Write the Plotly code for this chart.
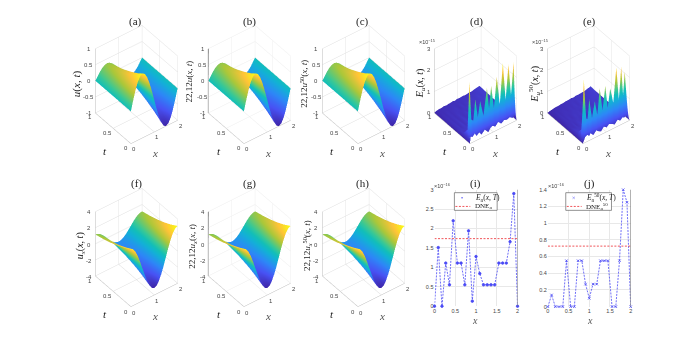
import plotly.graph_objects as go

W, H = 700, 348
x_grid = [0, .1, .2, .3, .4, .5, .6, .7, .8, .9, 1, 1.1, 1.2, 1.3, 1.4, 1.5, 1.6, 1.7, 1.8, 1.9, 2]
t_grid = [0, .2, .4, .6, .8, 1]
u_vals = [
    [0, .31, .59, .81, .95, 1, .95, .81, .59, .31, 0, -.31, -.59, -.81, -.95, -1, -.95, -.81, -.59, -.31, 0],
    [0, .25, .48, .66, .78, .82, .78, .66, .48, .25, 0, -.25, -.48, -.66, -.78, -.82, -.78, -.66, -.48, -.25, 0],
    [0, .21, .39, .54, .64, .67, .64, .54, .39, .21, 0, -.21, -.39, -.54, -.64, -.67, -.64, -.54, -.39, -.21, 0],
    [0, .17, .32, .44, .52, .55, .52, .44, .32, .17, 0, -.17, -.32, -.44, -.52, -.55, -.52, -.44, -.32, -.17, 0],
    [0, .14, .26, .36, .43, .45, .43, .36, .26, .14, 0, -.14, -.26, -.36, -.43, -.45, -.43, -.36, -.26, -.14, 0],
    [0, .11, .22, .30, .35, .37, .35, .30, .22, .11, 0, -.11, -.22, -.30, -.35, -.37, -.35, -.30, -.22, -.11, 0],
]
ux_vals = [
    [3.14, 2.99, 2.54, 1.85, .97, 0, -.97, -1.85, -2.54, -2.99, -3.14, -2.99, -2.54, -1.85, -.97, 0, .97, 1.85, 2.54, 2.99, 3.14],
    [2.57, 2.45, 2.08, 1.51, .79, 0, -.79, -1.51, -2.08, -2.45, -2.57, -2.45, -2.08, -1.51, -.79, 0, .79, 1.51, 2.08, 2.45, 2.57],
    [2.10, 2.00, 1.70, 1.24, .65, 0, -.65, -1.24, -1.70, -2.00, -2.10, -2.00, -1.70, -1.24, -.65, 0, .65, 1.24, 1.70, 2.00, 2.10],
    [1.72, 1.64, 1.40, 1.01, .53, 0, -.53, -1.01, -1.40, -1.64, -1.72, -1.64, -1.40, -1.01, -.53, 0, .53, 1.01, 1.40, 1.64, 1.72],
    [1.41, 1.34, 1.14, .83, .44, 0, -.44, -.83, -1.14, -1.34, -1.41, -1.34, -1.14, -.83, -.44, 0, .44, .83, 1.14, 1.34, 1.41],
    [1.16, 1.10, .94, .68, .36, 0, -.36, -.68, -.94, -1.10, -1.16, -1.10, -.94, -.68, -.36, 0, .36, .68, .94, 1.10, 1.16],
]
t_err = [0, .04, .09, .2, .4, .6, .8, 1]
x_d = [0, .04, .12, .21, .29, .4, .5, .64, .79, .88, .97, 1.09, 1.21, 1.34, 1.47, 1.59, 1.71, 1.82, 1.93, 2]
err_d = [
    [0, .3, .25, .35, .2, .3, .15, .3, .1, .25, .3, .2, .35, .2, .3, .25, .3, .2, .3, 0],
    [0, 2.8, 1.0, .9, 1.85, .95, 1.65, .9, 2.1, 1.1, 2.1, 1.0, 2.4, 1.0, 2.9, 1.1, 2.7, 1.2, 2.7, 0],
    [0, .5, .35, .3, .45, .3, .4, .3, .5, .35, .5, .3, .5, .35, .6, .4, .6, .4, .6, 0],
    [0, .2, .15, .2, .15, .2, .2, .15, .2, .25, .2, .25, .2, .25, .25, .3, .25, .3, .25, 0],
    [0, .1, .15, .1, .18, .12, .2, .15, .12, .2, .15, .22, .15, .2, .18, .22, .2, .25, .2, 0],
    [0, .08, .12, .1, .14, .1, .16, .12, .18, .12, .2, .14, .2, .16, .2, .18, .22, .2, .18, 0],
    [0, .06, .1, .08, .12, .1, .12, .14, .1, .16, .12, .16, .14, .18, .16, .2, .18, .22, .2, 0],
    [0, .04, .06, .08, .07, .1, .08, .1, .12, .1, .13, .12, .14, .12, .15, .14, .18, .2, .22, 0],
]
x_e = [0, .1, .2, .27, .33, .45, .57, .68, .78, .9, 1.02, 1.12, 1.23, 1.36, 1.49, 1.6, 1.7, 1.78, 1.85, 2]
err_e = [
    [0, .25, .3, .2, .3, .15, .3, .2, .15, .3, .2, .3, .25, .15, .3, .2, .3, .25, .3, 0],
    [0, 2.87, 1.0, .95, 1.83, .9, 1.6, .9, 2.1, 1.0, 2.08, 1.0, 1.85, 1.1, 2.68, 1.1, 2.6, 1.2, 2.3, 0],
    [0, .5, .3, .35, .45, .3, .4, .3, .5, .3, .5, .35, .45, .3, .6, .4, .6, .4, .5, 0],
    [0, .2, .2, .15, .2, .15, .2, .2, .15, .25, .2, .25, .2, .3, .25, .25, .3, .25, .25, 0],
    [0, .12, .1, .16, .1, .18, .14, .12, .2, .15, .2, .14, .22, .16, .2, .24, .2, .22, .18, 0],
    [0, .06, .12, .1, .14, .1, .16, .14, .16, .12, .2, .14, .18, .16, .22, .18, .2, .2, .2, 0],
    [0, .05, .1, .08, .1, .12, .1, .14, .12, .16, .12, .18, .14, .16, .18, .2, .2, .22, .2, 0],
    [0, .04, .05, .07, .08, .08, .1, .1, .12, .12, .14, .12, .15, .14, .16, .16, .2, .22, .24, 0],
]
x_line = [0, .09, .18, .27, .36, .45, .55, .64, .73, .82, .91, 1, 1.09, 1.18, 1.27, 1.36, 1.45, 1.55, 1.64, 1.73, 1.82, 1.91, 2]
e_i = [0, 1.51, 0, 1.11, .55, 2.2, 1.11, 1.11, .55, 1.94, .13, 1.28, .84, .55, .55, .55, .55, 1.11, 1.11, 1.11, 1.66, 2.9, 0]
e_j = [0, .14, 0, 0, 0, .55, 0, 0, .55, .55, .27, .1, .27, .27, .55, .55, .55, 0, 0, .55, 1.4, 1.25, 0]
dne_i = [1.74] * 2
dne_j = [.725] * 2
x_dne = [0, 2]
x_ticks = [0, 1, 2]
t_ticks = [0, .5, 1]

parula = [[0, "#3E26A8"], [.143, "#4852F4"], [.286, "#2D87F7"], [.429, "#12B1D6"], [.5, "#12BEB9"], [.571, "#37C897"],
          [.714, "#ABC739"], [.857, "#FEC338"], [1, "#F9FB15"]]

SERIF = "Liberation Serif"
SANS = "Liberation Sans"
TICK = dict(size=6, color="#444444", family=SANS)
fig = go.Figure()

panels = [
    ("scene", 135, 83, x_grid, t_grid, u_vals, [-1, -.5, 0, .5, 1], [-1, 1], False),
    ("scene2", 249.5, 83, x_grid, t_grid, u_vals, [-1, -.5, 0, .5, 1], [-1, 1], True),
    ("scene3", 363.5, 83, x_grid, t_grid, u_vals, [-1, -.5, 0, .5, 1], [-1, 1], False),
    ("scene4", 476.5, 83, x_d, t_err, err_d, [0, 1, 2, 3], [0, 3], False),
    ("scene5", 590.5, 83, x_e, t_err, err_e, [0, 1, 2, 3], [0, 3], False),
    ("scene6", 135, 249.5, x_grid, t_grid, ux_vals, [-4, -2, 0, 2, 4], [-4, 4], False),
    ("scene7", 249.5, 249.5, x_grid, t_grid, ux_vals, [-4, -2, 0, 2, 4], [-4, 4], True),
    ("scene8", 363.5, 249.5, x_grid, t_grid, ux_vals, [-4, -2, 0, 2, 4], [-4, 4], False),
]
L = 2.4
eye = dict(x=-0.457 * L, y=-0.601 * L, z=0.656 * L)
layout = {}
for sc, cx, cy, xs, ts, zs, zt, zr, dark in panels:
    fig.add_trace(go.Surface(x=xs, y=ts, z=zs, scene=sc, colorscale=parula, showscale=False, hoverinfo="skip",
                             lighting=dict(ambient=1, diffuse=0, specular=0, fresnel=0, roughness=1)))
    grid = "#ececec" if dark else "#dddddd"
    common = dict(showbackground=False, gridcolor=grid, gridwidth=1, zeroline=False, showspikes=False,
                  showticklabels=False, title=dict(text=""), ticks="",
                  showline=True, linecolor="#bbbbbb", linewidth=1)
    tick_notes = []
    for v in x_ticks:
        tick_notes.append(dict(x=v, y=0, z=zr[0], text=f"{v:g}", showarrow=False, font=TICK, xshift=3, yshift=-5))
    for v in t_ticks:
        tick_notes.append(dict(x=0, y=v, z=zr[0], text=f"{v:g}", showarrow=False, font=TICK, xshift=-5, yshift=-4))
    for v in zt:
        tick_notes.append(dict(x=0, y=1, z=v, text=f"{v:g}", showarrow=False, font=TICK, xshift=-6, yshift=0))
    layout[sc] = dict(
        domain=dict(x=[(cx - 57) / W, (cx + 57) / W], y=[1 - (cy + 74) / H, 1 - (cy - 74) / H]),
        aspectmode="manual", aspectratio=dict(x=.81, y=.81, z=1.175),
        camera=dict(eye=eye, up=dict(x=0, y=0, z=1), center=dict(x=0, y=0, z=0), projection=dict(type="orthographic")),
        xaxis=dict(common, range=[0, 2], tickvals=x_ticks),
        yaxis=dict(common, range=[0, 1], tickvals=t_ticks),
        zaxis=dict(common, range=zr, tickvals=zt, linecolor="#777777" if dark else "#bbbbbb", linewidth=2 if dark else 1),
        annotations=tick_notes,
    )

blue = "#4a4af5"
red = "#f0555a"
for name, xa, ya, xdom, ydom, ys, sym, dne, top, yvals, ytext in [
    ("i", "x", "y", (435, 518.5), (190, 308.5), e_i, "circle", dne_i, 3, [0, .5, 1, 1.5, 2, 2.5, 3],
     ["0", "0.5", "1", "1.5", "2", "2.5", "3"]),
    ("j", "x2", "y2", (549, 632.3), (190, 309), e_j, "x-thin", dne_j, 1.4, [0, .2, .4, .6, .8, 1, 1.2, 1.4],
     ["0", "0.2", "0.4", "0.6", "0.8", "1", "1.2", "1.4"]),
]:
    fig.add_trace(go.Scatter(x=x_line, y=ys, xaxis=xa, yaxis=ya, mode="lines+markers", showlegend=False,
                             line=dict(color=blue, width=0.8, dash="2px,1.2px"),
                             marker=dict(symbol=sym, size=2.5, color=blue, line=dict(color=blue, width=0.8)),
                             cliponaxis=False))
    fig.add_trace(go.Scatter(x=x_dne, y=dne, xaxis=xa, yaxis=ya, mode="lines", showlegend=False,
                             line=dict(color=red, width=1, dash="2px,1.5px")))
    ax = dict(showgrid=True, gridcolor="#e8e8e8", gridwidth=1, zeroline=False, showline=False,
              tickfont=dict(size=5.5, color="#444444", family=SANS), ticks="")
    suffix = "" if name == "i" else "2"
    layout["xaxis" + suffix] = dict(ax, domain=[xdom[0] / W, xdom[1] / W], range=[0, 2],
                                    tickvals=[0, .5, 1, 1.5, 2], ticktext=["0", "0.5", "1", "1.5", "2"], anchor=ya)
    layout["yaxis" + suffix] = dict(ax, domain=[1 - ydom[1] / H, 1 - ydom[0] / H], range=[0, top],
                                    tickvals=yvals, ticktext=ytext, anchor=xa)

def px_shape(kind, x0, y0, x1, y1, **kw):
    return dict(type=kind, xref="paper", yref="paper", x0=x0 / W, x1=x1 / W, y0=1 - y0 / H, y1=1 - y1 / H, **kw)

shapes = [
    dict(type="line", xref="x", yref="y domain", x0=2, x1=2, y0=0, y1=1, line=dict(color="#777777", width=1)),
    dict(type="line", xref="x2", yref="y2 domain", x0=2, x1=2, y0=0, y1=1, line=dict(color="#777777", width=1)),
    px_shape("rect", 455, 193, 498, 211, fillcolor="white", line=dict(color="#666666", width=0.7)),
    px_shape("rect", 567, 193, 613, 211, fillcolor="white", line=dict(color="#666666", width=0.7)),
    px_shape("line", 456, 207, 471, 207, line=dict(color=red, width=1, dash="2px,1.5px")),
    px_shape("line", 568, 207, 583, 207, line=dict(color=red, width=1, dash="2px,1.5px")),
]

def note(x, y, text, size=9, angle=0, color="#222222", family=SERIF, anchor="center"):
    return dict(text=text, x=x / W, y=1 - y / H, xref="paper", yref="paper", showarrow=False, textangle=angle,
                font=dict(size=size, color=color, family=family), xanchor=anchor, yanchor="middle")

titles = [("(a)", 134, 19), ("(b)", 249, 19), ("(c)", 363, 19), ("(d)", 477, 19), ("(e)", 591, 19),
          ("(f)", 135, 184), ("(g)", 249, 184), ("(h)", 363, 184), ("(i)", 476, 184), ("(j)", 591, 184)]
anns = [note(x, y, t, size=11) for t, x, y in titles]
ylabels = [
    ("<i>u</i>(<i>x, t</i>)", 75, 82, 11), ("22,12<i>u</i>(<i>x, t</i>)", 188, 80, 9), ("22,12<i>u</i><sup>50</sup>(<i>x, t</i>)", 303, 82, 9),
    ("<i>E<sub>u</sub></i>(<i>x, t</i>)", 421, 82, 10), ("<i>E<sub>u</sub></i><sup>50</sup>(<i>x, t</i>)", 535, 82, 10),
    ("<i>u<sub>x</sub></i>(<i>x, t</i>)", 79, 247, 10), ("22,12<i>u<sub>x</sub></i>(<i>x, t</i>)", 192, 247, 9), ("22,12<i>u<sub>x</sub></i><sup>50</sup>(<i>x, t</i>)", 307, 247, 9),
]
anns += [note(x, y, t, size=s, angle=-90) for t, x, y, s in ylabels]
for fx in [130, 244, 358, 472, 585]:
    anns.append(note(fx - 26, 151, "<i>t</i>", size=11))
    anns.append(note(fx + 24, 153, "<i>x</i>", size=11, color="#555555"))
for fx in [130, 244, 358]:
    anns.append(note(fx - 26, 316, "<i>t</i>", size=11))
    anns.append(note(fx + 24, 318, "<i>x</i>", size=11, color="#555555"))
anns.append(note(476, 323, "<i>x</i>", size=10, color="#555555"))
anns.append(note(591, 323, "<i>x</i>", size=10, color="#555555"))
for t, x, y in [("×10<sup>−15</sup>", 427, 40), ("×10<sup>−15</sup>", 541, 40), ("×10<sup>−16</sup>", 443, 186), ("×10<sup>−16</sup>", 557, 186)]:
    anns.append(note(x, y, t, size=5.5, color="#444444", family=SANS))
anns.append(note(463, 198, "•", size=6, color=blue))
anns.append(note(474, 198, "<i>E<sub>u</sub></i>(<i>x, T</i>)", size=7.5, anchor="left"))
anns.append(note(474, 207, "DNE<sub><i>u</i></sub>", size=7, anchor="left"))
anns.append(note(575, 198, "×", size=6, color=blue))
anns.append(note(585, 198, "<i>E<sub>u</sub></i><sup>50</sup>(<i>x, T</i>)", size=7.5, anchor="left"))
anns.append(note(585, 207, "DNE<sub><i>u</i></sub><sup>50</sup>", size=7, anchor="left"))

fig.update_layout(width=W, height=H, margin=dict(l=0, r=0, t=0, b=0), paper_bgcolor="white", plot_bgcolor="white",
                  showlegend=False, shapes=shapes, annotations=anns, **layout)
fig.write_html("out.html", config=dict(displayModeBar=False), post_script="document.body.style.margin='0';")
